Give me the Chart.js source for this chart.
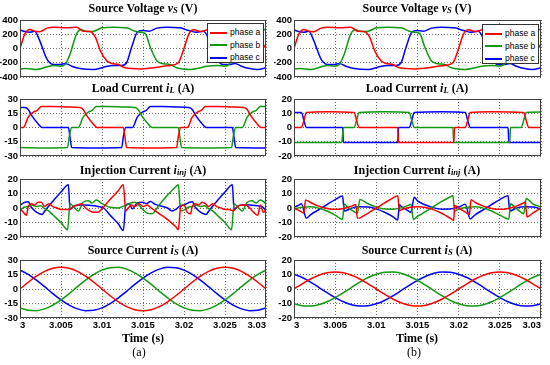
<!DOCTYPE html>
<html>
<head>
<meta charset="utf-8">
<script src="https://cdn.jsdelivr.net/npm/chart.js@4.4.0/dist/chart.umd.min.js"></script>
<style>
  body { margin: 0; background: #fff; overflow: hidden; }
  #fig { position: relative; width: 550px; height: 365px; overflow: hidden; }
  canvas { position: absolute; }
  .ttl { position: absolute; transform: translate(-50%, -50%); white-space: nowrap;
         font: bold 12px "Times New Roman", "Liberation Serif", serif; color: #000; }
  .ttl sub { font-size: 0.72em; vertical-align: -0.2em; line-height: 0; }
  .cap { position: absolute; transform: translate(-50%, -50%); white-space: nowrap;
         font: 12px "Times New Roman", "Liberation Serif", serif; color: #000; }
  .lgd { position: absolute; width: 57px; height: 40px; box-sizing: border-box; padding-top: 2px;
         border: 1px solid #333; background: #fff; font: 8.5px Arial, "Liberation Sans", sans-serif; }
  .lgd div { height: 12.5px; line-height: 12.5px; white-space: nowrap; }
  .lgd span { display: inline-block; width: 17px; height: 2px; margin: 0 3px 0 2px; vertical-align: middle; }
</style>
</head>
<body>
<div id="fig">
  <canvas id="c1a" width="270" height="73" style="left:0;top:12px"></canvas>
  <canvas id="c2a" width="270" height="73" style="left:0;top:91px"></canvas>
  <canvas id="c3a" width="270" height="74" style="left:0;top:171px"></canvas>
  <canvas id="c4a" width="270" height="80" style="left:0;top:252px"></canvas>
  <canvas id="c1b" width="271" height="73" style="left:274px;top:12px"></canvas>
  <canvas id="c2b" width="271" height="73" style="left:274px;top:91px"></canvas>
  <canvas id="c3b" width="271" height="74" style="left:274px;top:171px"></canvas>
  <canvas id="c4b" width="271" height="80" style="left:274px;top:252px"></canvas>

  <div class="ttl" style="left:143px;top:8px">Source Voltage <i>v</i><sub><i>S</i></sub> (V)</div>
  <div class="ttl" style="left:143px;top:88px">Load Current <i>i</i><sub><i>L</i></sub> (A)</div>
  <div class="ttl" style="left:143px;top:170px">Injection Current <i>i</i><sub><i>inj</i></sub> (A)</div>
  <div class="ttl" style="left:143px;top:250px">Source Current <i>i</i><sub><i>S</i></sub> (A)</div>
  <div class="ttl" style="left:417px;top:8px">Source Voltage <i>v</i><sub><i>S</i></sub> (V)</div>
  <div class="ttl" style="left:417px;top:88px">Load Current <i>i</i><sub><i>L</i></sub> (A)</div>
  <div class="ttl" style="left:417px;top:170px">Injection Current <i>i</i><sub><i>inj</i></sub> (A)</div>
  <div class="ttl" style="left:417px;top:250px">Source Current <i>i</i><sub><i>S</i></sub> (A)</div>

  <div class="ttl" style="left:143px;top:338px">Time (s)</div>
  <div class="ttl" style="left:417px;top:338px">Time (s)</div>
  <div class="cap" style="left:139px;top:352px">(a)</div>
  <div class="cap" style="left:414px;top:352px">(b)</div>

  <div class="lgd" style="left:207px;top:23px">
    <div><span style="background:#ff0000"></span>phase a</div>
    <div><span style="background:#119911"></span>phase b</div>
    <div><span style="background:#0000ff"></span>phase c</div>
  </div>
  <div class="lgd" style="left:482px;top:24px">
    <div><span style="background:#ff0000"></span>phase a</div>
    <div><span style="background:#119911"></span>phase b</div>
    <div><span style="background:#0000ff"></span>phase c</div>
  </div>
</div>

<script>
// time axis is in ms after t = 3 s
const timeTicks = [0, 5, 10, 15, 20, 25, 30];
const timeLabels = ['3', '3.005', '3.01', '3.015', '3.02', '3.025', '3.03'];
const ticks400 = [-400, -200, 0, 200, 400];
const ticks30 = [-30, -15, 0, 15, 30];
const ticks20 = [-20, -10, 0, 10, 20];

const phaseColors = ['#ff0000', '#119911', '#0000ff'];

// source voltage (same in (a) and (b)) - [ms, V]
const vs_red = [[0,0],[0.6,205],[1.2,267],[1.8,243],[2.4,236],[3.3,286],[4.1,300],[5.7,290],[6.9,300],[7.7,243],[8.5,238],[9.2,157],[9.8,-33],[10.6,-176],[11.2,-210],[12.0,-224],[12.8,-271],[14.7,-286],[16.3,-271],[17.5,-248],[18.3,-238],[19.3,-200],[19.9,-33],[20.6,205],[21.2,262],[22.0,238],[22.8,262],[23.3,286],[24.1,300],[25.7,290],[26.9,300],[27.7,243],[28.5,238],[29.2,157],[29.7,50],[30,0]];
const vs_green = [[0,-286],[0.8,-281],[2.0,-295],[3.3,-257],[4.1,-238],[4.9,-248],[5.5,-224],[6.1,-81],[6.9,205],[7.5,262],[8.1,238],[9.0,243],[10.0,290],[11.4,300],[13.0,290],[14.0,243],[14.7,229],[15.3,205],[15.9,14],[16.7,-176],[17.5,-214],[18.3,-224],[19.1,-271],[20.8,-295],[22.0,-271],[22.8,-248],[24.1,-238],[24.9,-248],[25.5,-224],[26.1,-81],[26.9,205],[27.5,262],[28.1,238],[29.0,243],[30,270]];
const vs_blue = [[0,262],[0.6,238],[1.2,229],[1.8,243],[2.4,110],[3.3,-152],[4.1,-224],[4.9,-224],[5.5,-210],[6.3,-248],[7.3,-281],[9.0,-295],[10.2,-262],[11.4,-238],[12.4,-238],[13.0,-200],[13.6,14],[14.3,229],[14.9,252],[15.7,243],[16.7,286],[17.9,300],[19.5,290],[20.6,252],[21.4,229],[22.4,243],[23.1,110],[24.0,-152],[24.8,-224],[25.6,-224],[26.2,-210],[27.0,-248],[28.0,-281],[29.0,-295],[30,-270]];

// load current (a)
const load_a_red = [[0,0],[0.4,0],[1.0,11],[1.6,16],[2.1,18],[2.6,22],[4.0,22],[6.0,21.5],[7.3,21],[7.7,19],[8.1,13],[8.8,5],[9.4,0],[12.6,0],[12.8,-10],[13.0,-21],[16.0,-21.5],[19.1,-21],[19.3,-10],[19.6,0],[20.4,0],[21.0,11],[21.6,16],[22.1,18],[22.6,22],[24.0,22],[26.0,21.5],[27.3,21],[27.7,19],[28.1,13],[28.8,5],[29.4,0],[30,0]];
const load_a_green = [[0,-21],[3,-21.5],[5.8,-21],[6.0,-10],[6.3,0],[7.1,0],[7.7,11],[8.3,16],[8.8,18],[9.3,22],[10.7,22],[12.7,21.5],[14.0,21],[14.4,19],[14.8,13],[15.5,5],[16.1,0],[19.3,0],[19.5,-10],[19.7,-21],[22.7,-21.5],[25.8,-21],[26.0,-10],[26.3,0],[27.1,0],[27.7,11],[28.3,16],[28.8,18],[29.3,22],[30,22]];
const load_a_blue = [[0,21],[0.6,21],[1.0,19],[1.4,13],[2.1,5],[2.7,0],[5.9,0],[6.1,-10],[6.3,-21],[9.3,-21.5],[12.4,-21],[12.6,-10],[12.9,0],[13.7,0],[14.3,11],[14.9,16],[15.4,18],[15.9,22],[17.3,22],[19.3,21.5],[20.6,21],[21.0,19],[21.4,13],[22.1,5],[22.7,0],[25.9,0],[26.1,-10],[26.3,-21],[30,-21.5]];

// load current (b)
const load_b_red = [[0,0],[0.9,0],[1.2,5],[1.5,10.6],[4,11],[7.3,10.6],[7.6,5],[7.9,0],[12.6,0],[12.7,-10.6],[19.4,-10.6],[19.5,0],[20.8,0],[21.1,5],[21.4,10.6],[24,11],[27.9,10.6],[28.2,5],[28.5,0],[30,0]];
const load_b_green = [[0,-10.6],[5.8,-10.6],[6.0,0],[7.3,0],[7.6,5],[7.9,10.6],[11,11],[14.0,10.6],[14.3,5],[14.6,0],[19.3,0],[19.4,-10.6],[26.2,-10.6],[26.3,0],[27.6,0],[27.9,5],[28.2,10.6],[30,10.8]];
const load_b_blue = [[0,10.6],[0.9,10.6],[1.2,5],[1.5,0],[5.9,0],[6.0,-10.6],[12.6,-10.6],[12.7,0],[14.0,0],[14.3,5],[14.6,10.6],[18,11],[20.8,10.6],[21.1,5],[21.4,0],[26.0,0],[26.1,-10.6],[30,-10.6]];

// injection current (a)
const inj_a_red = [[0,0],[0.4,-3],[0.8,-5],[1.0,1],[1.4,3],[1.8,2],[2.2,4],[2.6,4],[3.0,1],[3.5,3],[4.0,1],[4.5,0],[5.0,-1],[5.5,-1],[6.0,-1],[6.5,1],[7.0,2],[7.5,3],[8.0,0],[8.5,-2],[9.0,-3],[9.5,-3],[10.0,-0.5],[11,6],[12,12],[12.6,16],[12.9,-2],[13.2,0],[13.6,2],[14,1],[14.5,3],[15,1],[15.5,2],[16,0],[16.5,-2],[17,-4],[18,-8],[19,-13],[19.3,-15],[19.6,1],[20,2],[20.4,-3],[20.8,-4],[21,1],[21.4,3],[21.8,2],[22.2,4],[22.6,3],[23,1],[23.5,3],[24,1],[24.5,0],[25,-1],[25.5,-1],[26,-2],[26.5,1],[27,2],[27.5,2],[28,0],[28.5,-3],[29,-5],[29.3,2],[29.7,-3],[30,-1]];
const inj_a_green = [[0,-1.5],[0.5,0.5],[1,1],[1.5,2],[2,1],[2.5,1.5],[3,-0.5],[3.5,-2],[4,-4.7],[5,-10],[5.8,-15],[6.1,3],[6.5,1],[7.1,-2],[7.7,4],[8.3,5],[8.8,3.5],[9.3,5.5],[10,3],[10.5,1.5],[11,0.5],[12,0],[12.5,1],[13,2],[13.5,3.5],[14,4],[14.5,2],[14.8,0],[15.5,-3.5],[16.1,-4],[17,2.3],[18,8.9],[19,14.7],[19.3,16],[19.6,-2],[20,-1.5],[20.5,0.5],[21,1],[21.5,2],[22,1],[22.5,1.5],[23,-0.5],[23.5,-2],[24,-4.7],[25,-10],[25.8,-15],[26.1,3],[26.5,1],[27.1,-2],[27.7,4],[28.3,5],[28.8,3.5],[29.3,5.5],[30,3]];
const inj_a_blue = [[0,2],[0.6,4],[1,4.3],[1.4,0.3],[2.1,-3.2],[2.7,-4.5],[3.0,-2.3],[4,4.6],[5,11],[5.9,16],[6.1,-1],[6.5,1],[7,2],[8,2],[9,1.5],[9.5,1],[10.2,0],[11,-5],[12,-11],[12.6,-15.5],[12.9,2],[13.3,3],[13.7,-0.5],[14.3,3.5],[14.9,4],[15.4,3],[15.9,4.5],[16.5,2.5],[17,1.5],[18,0],[18.5,-2],[19,-1],[19.5,1.5],[20,2],[20.6,3.8],[21,4.3],[21.4,0.3],[22.1,-3.2],[22.7,-4.5],[23.0,-2.3],[24,4.6],[25,11],[25.9,16],[26.1,-1],[26.5,1],[27,2],[28,2],[29,1.5],[29.5,1],[30,-1.5]];

// injection current (b)
const inj_b_red = [[0,0],[0.5,-1.5],[1.0,-3],[1.2,-3.5],[1.4,5.5],[2,3.8],[3,1.3],[4,-0.3],[5,-0.9],[6,-0.3],[7,1.3],[7.5,2.5],[7.7,-7],[8,-6.8],[9,-3.5],[10,0],[11,3.5],[12,6.8],[12.6,8.5],[12.8,-2],[13,-1.3],[14,0.3],[15,0.9],[16,0.3],[17,-1.3],[18,-3.8],[19,-7.2],[19.4,-8.6],[19.5,1.8],[20,0],[21,-3.5],[21.3,-4.6],[21.5,5.7],[22,3.8],[23,1.3],[24,-0.3],[25,-0.9],[26,-0.3],[27,1.3],[28,3.8],[28.1,4.2],[28.3,-6.2],[29,-3.5],[30,0]];
const inj_b_green = [[0,-0.6],[1,0.6],[2,0.8],[3,-0.1],[4,-2.1],[5,-4.9],[5.9,-7.9],[6.1,2.7],[6.5,0.6],[7.3,-2.5],[7.7,-3.7],[8.0,5.9],[9,2.9],[10,0.6],[11,-0.7],[12,-0.8],[13,0.1],[14,2.1],[14.2,2.6],[14.5,-8],[15,-5.8],[16,-2.4],[17,1.2],[18,4.7],[19,7.7],[19.3,8.6],[19.5,-2],[20,-0.6],[21,0.6],[22,0.8],[23,-0.1],[24,-2.1],[25,-4.9],[26.1,-7.6],[26.3,3],[26.8,0.6],[27.6,-3],[27.9,-4],[28.2,6.6],[29,2.9],[30,0.6]];
const inj_b_blue = [[0,0.6],[0.5,1.7],[0.9,2.9],[1.5,-7],[2,-4.7],[3,-1.2],[4,2.4],[5,5.8],[5.9,8.3],[6.1,-2.1],[7,-0.1],[8,0.8],[9,0.7],[10,-0.6],[11,-2.9],[12,-5.9],[12.6,-8.3],[12.8,2.3],[13,1.2],[14,-2.4],[14.2,-3.1],[14.6,7.5],[15,4.9],[16,2.1],[17,0.1],[18,-0.8],[19,-0.7],[20,0.6],[20.8,2.6],[21.4,-7.5],[22,-4.7],[23,-1.2],[24,2.4],[25,5.8],[26,8.5],[26.2,-2.1],[27,-0.1],[28,0.8],[29,0.7],[30,-0.6]];

// source current, sampled every 1 ms
const srcTime = [0,1,2,3,4,5,6,7,8,9,10,11,12,13,14,15,16,17,18,19,20,21,22,23,24,25,26,27,28,29,30];
const src_a_red = [0,7,13.2,18.2,21.4,22.5,21.4,18.2,13.2,7,0,-7,-13.2,-18.2,-21.4,-22.5,-21.4,-18.2,-13.2,-7,0,7,13.2,18.2,21.4,22.5,21.4,18.2,13.2,7,0];
const src_a_green = [-19.5,-22,-22.4,-20.6,-16.7,-11.2,-4.7,2.4,9.2,15.1,19.5,22,22.4,20.6,16.7,11.2,4.7,-2.4,-9.2,-15.1,-19.5,-22,-22.4,-20.6,-16.7,-11.2,-4.7,2.4,9.2,15.1,19.5];
const src_a_blue = [19.5,15.1,9.2,2.4,-4.7,-11.2,-16.7,-20.6,-22.4,-22,-19.5,-15.1,-9.2,-2.4,4.7,11.2,16.7,20.6,22.4,22,19.5,15.1,9.2,2.4,-4.7,-11.2,-16.7,-20.6,-22.4,-22,-19.5];
const src_b_red = [0,3.6,6.9,9.5,11.2,11.8,11.2,9.5,6.9,3.6,0,-3.6,-6.9,-9.5,-11.2,-11.8,-11.2,-9.5,-6.9,-3.6,0,3.6,6.9,9.5,11.2,11.8,11.2,9.5,6.9,3.6,0];
const src_b_green = [-10.2,-11.5,-11.7,-10.8,-8.8,-5.9,-2.5,1.2,4.8,7.9,10.2,11.5,11.7,10.8,8.8,5.9,2.5,-1.2,-4.8,-7.9,-10.2,-11.5,-11.7,-10.8,-8.8,-5.9,-2.5,1.2,4.8,7.9,10.2];
const src_b_blue = [10.2,7.9,4.8,1.2,-2.5,-5.9,-8.8,-10.8,-11.7,-11.5,-10.2,-7.9,-4.8,-1.2,2.5,5.9,8.8,10.8,11.7,11.5,10.2,7.9,4.8,1.2,-2.5,-5.9,-8.8,-10.8,-11.7,-11.5,-10.2];

const tickFont = { family: 'Arial, "Liberation Sans", sans-serif', size: 9.5, weight: 'bold' };
const gridColor = '#6a6a6a';

// solid box round the plot area
const frame = {
    id: 'frame',
    afterDraw(chart) {
        const { ctx, chartArea: a } = chart;
        ctx.save();
        ctx.strokeStyle = '#444';
        ctx.lineWidth = 1;
        ctx.strokeRect(Math.round(a.left) + 0.5, Math.round(a.top) + 0.5,
            Math.round(a.right - a.left) - 1, Math.round(a.bottom - a.top) - 1);
        ctx.restore();
    }
};

function pairs(list) {
    return list.map(p => ({ x: p[0], y: p[1] }));
}
function sampled(ys) {
    return ys.map((y, i) => ({ x: srcTime[i], y: y }));
}

function makePlot(id, series, yTicks, showTime) {
    new Chart(document.getElementById(id), {
        type: 'line',
        data: {
            datasets: series.map((pts, i) => ({
                data: pts,
                borderColor: phaseColors[i],
                borderWidth: 1.5,
                pointRadius: 0,
                fill: false,
                cubicInterpolationMode: 'monotone'
            }))
        },
        options: {
            responsive: false,
            animation: false,
            events: [],
            layout: { padding: { top: 8, right: 4, left: 0, bottom: showTime ? 0 : 8 } },
            plugins: { legend: { display: false }, tooltip: { enabled: false } },
            scales: {
                x: {
                    type: 'linear', min: 0, max: 30,
                    afterBuildTicks: sc => { sc.ticks = timeTicks.map(v => ({ value: v })); },
                    afterFit: sc => { sc.height = showTime ? 14 : 0; },
                    grid: { color: gridColor, drawTicks: false },
                    border: { display: false, dash: [1, 2] },
                    ticks: {
                        display: showTime, align: 'inner', autoSkip: false, maxRotation: 0,
                        padding: 2, color: '#000', font: tickFont,
                        callback: v => timeLabels[timeTicks.indexOf(v)]
                    }
                },
                y: {
                    min: yTicks[0], max: yTicks[yTicks.length - 1],
                    afterBuildTicks: sc => { sc.ticks = yTicks.map(v => ({ value: v })); },
                    afterFit: sc => { sc.width = 20; },
                    grid: { color: gridColor, drawTicks: false },
                    border: { display: false, dash: [1, 2] },
                    ticks: { padding: 2, color: '#000', font: tickFont, autoSkip: false }
                }
            }
        },
        plugins: [frame]
    });
}

makePlot('c1a', [pairs(vs_red), pairs(vs_green), pairs(vs_blue)], ticks400, false);
makePlot('c2a', [pairs(load_a_red), pairs(load_a_green), pairs(load_a_blue)], ticks30, false);
makePlot('c3a', [pairs(inj_a_red), pairs(inj_a_green), pairs(inj_a_blue)], ticks20, false);
makePlot('c4a', [sampled(src_a_red), sampled(src_a_green), sampled(src_a_blue)], ticks30, true);

makePlot('c1b', [pairs(vs_red), pairs(vs_green), pairs(vs_blue)], ticks400, false);
makePlot('c2b', [pairs(load_b_red), pairs(load_b_green), pairs(load_b_blue)], ticks20, false);
makePlot('c3b', [pairs(inj_b_red), pairs(inj_b_green), pairs(inj_b_blue)], ticks20, false);
makePlot('c4b', [sampled(src_b_red), sampled(src_b_green), sampled(src_b_blue)], ticks20, true);
</script>
</body>
</html>
